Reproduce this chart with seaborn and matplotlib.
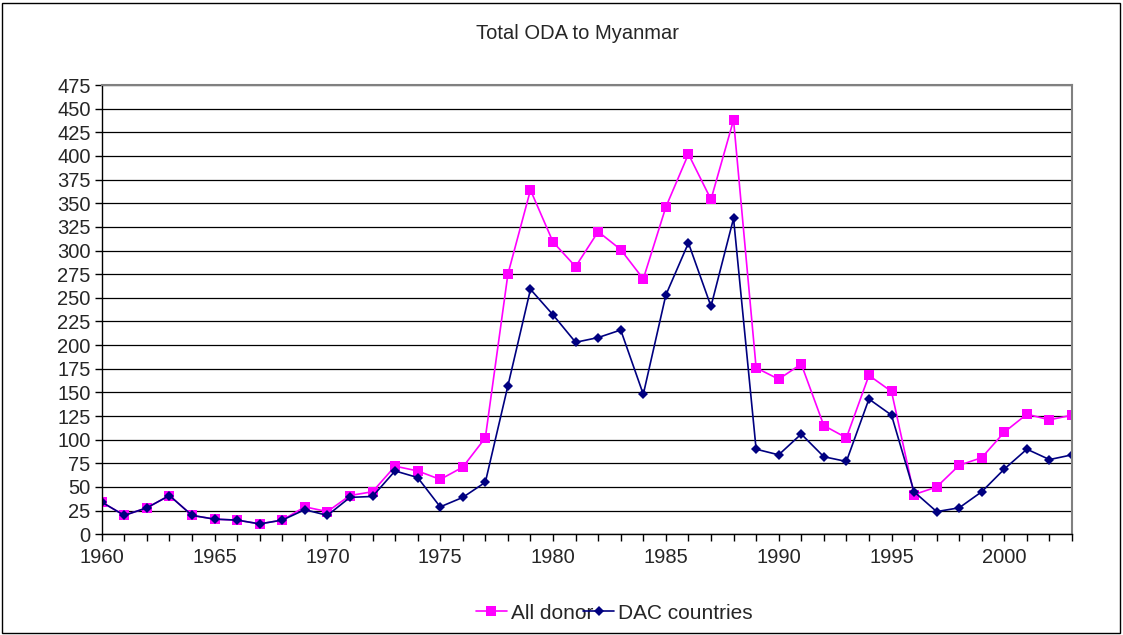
import matplotlib
matplotlib.use("Agg")
import matplotlib.pyplot as plt
from matplotlib.patches import Rectangle
from matplotlib.ticker import MultipleLocator
import seaborn as sns

# Data (US$ million)
years = list(range(1960, 2004))
all_donor = [34, 20, 28, 41, 20, 16, 15, 11, 15, 29, 24, 41, 45, 72, 67, 58, 71, 102,
             275, 364, 309, 283, 320, 301, 270, 346, 402, 354, 438,
             176, 164, 180, 115, 102, 168, 151, 42, 50, 73, 81, 108, 127, 121, 126]
dac = [34, 20, 28, 41, 20, 16, 15, 11, 15, 26, 20, 39, 40, 67, 60, 29, 39, 55,
       157, 259, 232, 203, 208, 216, 148, 253, 308, 241, 334,
       90, 84, 106, 82, 77, 143, 126, 45, 24, 28, 45, 69, 90, 79, 84]

sns.set_theme(style="white")
plt.rcParams['font.family'] = ['Liberation Sans', 'DejaVu Sans']

fig = plt.figure(figsize=(11.23, 6.35), dpi=100)
ax = fig.add_axes([0.0906, 0.1586, 0.8640, 0.7075])

sns.lineplot(x=years, y=all_donor, color='#FF00FF', marker='s', markersize=7,
             markeredgewidth=0, linewidth=1.2, label='All donor', ax=ax)
sns.lineplot(x=years, y=dac, color='#000080', marker='D', markersize=5,
             markeredgewidth=0, linewidth=1.2, label='DAC countries', ax=ax)

ax.set_xlim(1960, 2003)
ax.set_ylim(0, 475)
ax.yaxis.set_major_locator(MultipleLocator(25))
ax.xaxis.set_major_locator(MultipleLocator(5))
ax.xaxis.set_minor_locator(MultipleLocator(1))
ax.grid(axis='y', color='black', linewidth=0.9)
ax.set_axisbelow(True)
ax.tick_params(axis='y', which='major', direction='out', length=5, width=1,
               color='black', labelsize=14.5, pad=3, left=True)
ax.tick_params(axis='x', which='both', direction='out', length=5, width=1,
               color='black', labelsize=14.5, pad=5, bottom=True)
for side in ['left', 'bottom']:
    ax.spines[side].set_color('black')
    ax.spines[side].set_linewidth(1)
for side in ['top', 'right']:
    ax.spines[side].set_color('#808080')
    ax.spines[side].set_linewidth(1.5)
ax.set_xlabel('')
ax.set_ylabel('')

fig.text(0.514, 0.9480, 'Total ODA to Myanmar', ha='center', va='center', fontsize=14.5)

ax.legend(loc='center', bbox_to_anchor=(0.547, 0.0346), bbox_transform=fig.transFigure,
          ncol=2, frameon=False, fontsize=15, handlelength=1.5, handletextpad=0.2,
          columnspacing=-0.5)

fig.patches.append(Rectangle((0.002, 0.003), 0.995, 0.993, transform=fig.transFigure,
                             fill=False, edgecolor='black', linewidth=1))

fig.savefig('out.png', dpi=100)
